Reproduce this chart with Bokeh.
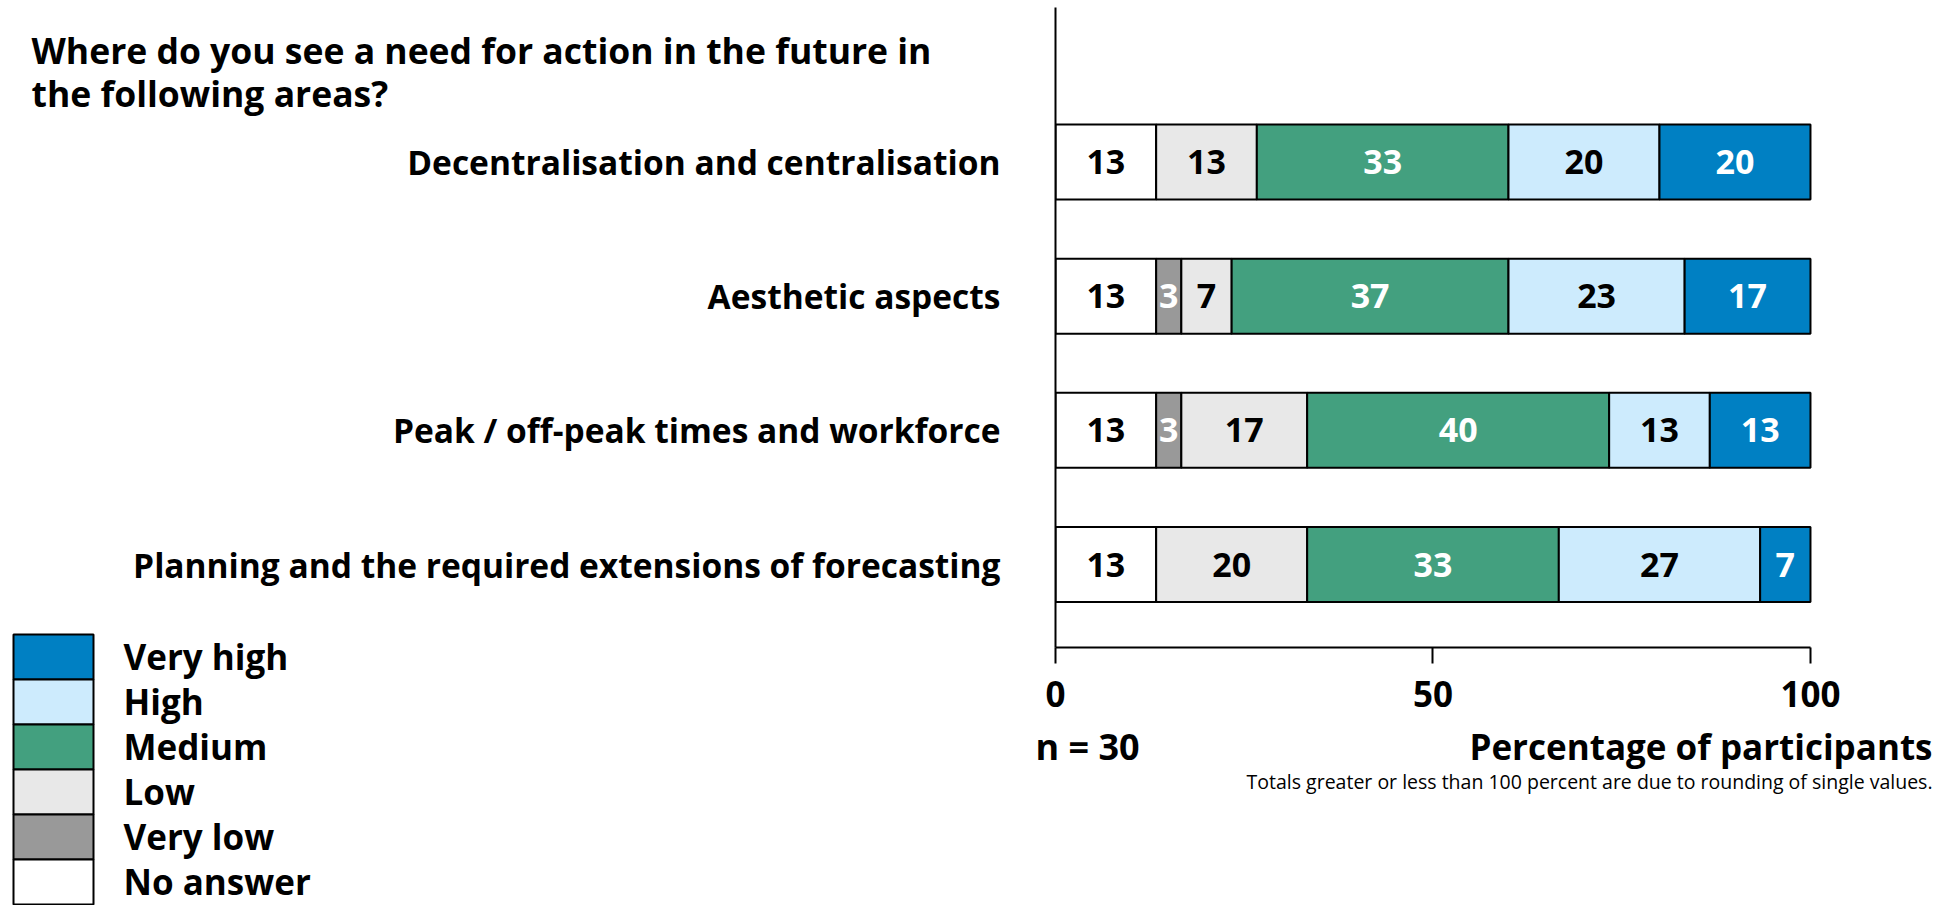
from bokeh.plotting import figure
from bokeh.models import Range1d, FixedTicker, ColumnDataSource
from bokeh.core.properties import value
from bokeh.embed import file_html
from bokeh.resources import INLINE

# ---------------- data ----------------
title_lines = ["Where do you see a need for action in the future in",
               "the following areas?"]
categories = ["Decentralisation and centralisation",
              "Aesthetic aspects",
              "Peak / off-peak times and workforce",
              "Planning and the required extensions of forecasting"]
n_total = 30
levels = ["No answer", "Very low", "Low", "Medium", "High", "Very high"]
# number of participants per answer (n = 30), per category (top to bottom)
no_answer = [4, 4, 4, 4]
very_low  = [0, 1, 1, 0]
low       = [4, 2, 5, 6]
medium    = [10, 11, 12, 10]
high      = [6, 7, 4, 8]
very_high = [6, 5, 4, 2]
x_ticks = [0, 50, 100]
x_label = "Percentage of participants"
footnote = "Totals greater or less than 100 percent are due to rounding of single values."
colors = ["#FFFFFF", "#999999", "#E8E8E8", "#43A07F", "#CDEBFD", "#0080C3"]
text_colors = ["black", "white", "black", "white", "black", "white"]

FONT = "Open Sans"
W, H = 1951, 905
FL, FR, FT, FB = 1055, 1813, 7, 647   # frame edges in page pixels

counts = [no_answer, very_low, low, medium, high, very_high]
ypos = [len(categories) - i for i in range(len(categories))]

data = {"y": ypos}
for lev, cnt in zip(levels, counts):
    data[lev] = [c / n_total * 100 for c in cnt]
source = ColumnDataSource(data)

p = figure(width=W, height=H, output_backend="svg", toolbar_location=None,
           x_range=Range1d(0, 100.4), y_range=Range1d(0.382, 5.151),
           min_border_left=FL, min_border_right=W - FR, min_border_top=FT,
           min_border_bottom=H - FB)
# page-pixel ranges for the free-standing texts and the legend
p.extra_x_ranges = {"px": Range1d(FL, FR)}
p.extra_y_ranges = {"py": Range1d(FB, FT)}
p.outline_line_color = None
p.xgrid.visible = False
p.ygrid.visible = False
p.background_fill_color = "white"
p.border_fill_color = "white"

renderers = p.hbar_stack(levels, y="y", height=0.559, color=colors,
                         line_color="black", line_width=2, source=source)

# value labels
lx, ly, lt, lc = [], [], [], []
for ci in range(len(categories)):
    left = 0.0
    for li, lev in enumerate(levels):
        v = data[lev][ci]
        if v > 0:
            lx.append(left + v / 2)
            ly.append(ypos[ci])
            lt.append(str(int(round(v))))
            lc.append(text_colors[li])
        left += v
p.text(x=lx, y=ly, text=lt, text_color=lc, text_font=value(FONT),
       text_font_style="bold", text_font_size="34px", text_align="center",
       text_baseline="middle")

# axes
xa = p.xaxis[0]
xa.ticker = FixedTicker(ticks=x_ticks)
xa.bounds = (0, 100)
xa.axis_line_width = 2
xa.major_tick_line_width = 2
xa.major_tick_out = 16
xa.major_tick_in = 0
xa.minor_tick_out = 0
xa.minor_tick_in = 0
xa.major_label_text_font = FONT
xa.major_label_text_font_style = "bold"
xa.major_label_text_font_size = "35px"
xa.major_label_text_color = "black"
xa.major_label_standoff = 17

ya = p.yaxis[0]
ya.ticker = FixedTicker(ticks=ypos)
ya.major_label_overrides = {y: c for y, c in zip(ypos, categories)}
ya.axis_line_width = 2
ya.major_tick_out = 0
ya.major_tick_in = 0
ya.minor_tick_out = 0
ya.minor_tick_in = 0
ya.major_label_text_font = FONT
ya.major_label_text_font_style = "bold"
ya.major_label_text_font_size = "33.5px"
ya.major_label_text_color = "black"
ya.major_label_standoff = 55

common = dict(x_range_name="px", y_range_name="py", level="overlay",
              text_font=value(FONT), text_baseline="middle", text_color="black")

# title (two lines)
p.text(x=[31, 31], y=[49, 92], text=title_lines, text_align="left",
       text_font_style="bold", text_font_size="35.5px", **common)

# n and axis title, footnote
p.text(x=[1035], y=[746], text=["n = " + str(n_total)], text_align="left",
       text_font_style="bold", text_font_size="36px", **common)
p.text(x=[1932], y=[746], text=[x_label], text_align="right",
       text_font_style="bold", text_font_size="35px", **common)
p.text(x=[1932], y=[781], text=[footnote], text_align="right",
       text_font_style="normal", text_font_size="19.5px", **common)

# legend (top: Very high ... bottom: No answer)
leg_levels = levels[::-1]
leg_colors = colors[::-1]
row_h = 45
leg_top = 634
leg_y = [leg_top + row_h / 2 + row_h * k for k in range(len(leg_levels))]
leg_src = ColumnDataSource(dict(x=[53] * len(leg_levels), y=leg_y, c=leg_colors,
                                t=leg_levels, tx=[123] * len(leg_levels),
                                ty=[v - 1 for v in leg_y]))
p.rect(x="x", y="y", width=80, height=row_h, fill_color="c", line_color="black",
       line_width=2, source=leg_src, x_range_name="px", y_range_name="py",
       level="overlay")
p.text(x="tx", y="ty", text="t", text_align="left", text_font_style="bold",
       text_font_size="35px", source=leg_src, **common)

open("out.html", "w").write(file_html(p, INLINE))
